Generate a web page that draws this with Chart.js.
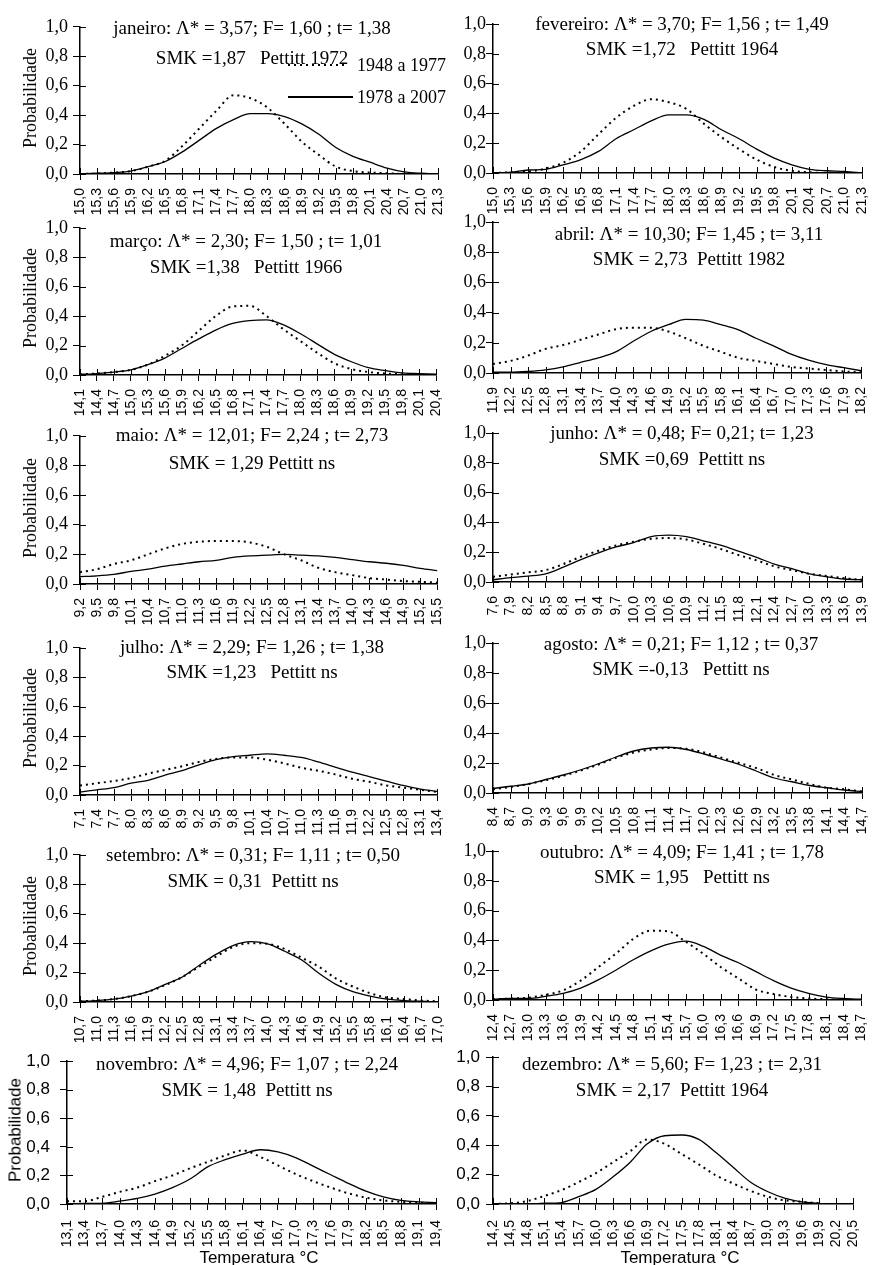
<!DOCTYPE html>
<html>
<head>
<meta charset="utf-8">
<script src="https://cdn.jsdelivr.net/npm/chart.js@4/dist/chart.umd.min.js"></script>
<style>
  body { margin: 0; background: #fff; }
  #stage { position: relative; width: 880px; height: 1265px; overflow: hidden; background: #fff; }
  #stage canvas { position: absolute; }
  .txt { position: absolute; white-space: pre; color: #000; line-height: 1; transform: translate(-50%, -50%); }
  .serif { font-family: "Liberation Serif", "Times New Roman", serif; }
  .sans { font-family: "Liberation Sans", Arial, sans-serif; }
  .ytitle { transform: translate(-50%, -50%) rotate(-90deg); }
</style>
</head>
<body>
<div id="stage"></div>
<script>
/* =============================
   Probabilidade x Temperatura – 1948/77 vs 1978/2007
   ============================= */

// ---- x tick labels (°C) ----
const labelsJan = ['15,0','15,3','15,6','15,9','16,2','16,5','16,8','17,1','17,4','17,7','18,0','18,3','18,6','18,9','19,2','19,5','19,8','20,1','20,4','20,7','21,0','21,3'];
const labelsFeb = ['15,0','15,3','15,6','15,9','16,2','16,5','16,8','17,1','17,4','17,7','18,0','18,3','18,6','18,9','19,2','19,5','19,8','20,1','20,4','20,7','21,0','21,3'];
const labelsMar = ['14,1','14,4','14,7','15,0','15,3','15,6','15,9','16,2','16,5','16,8','17,1','17,4','17,7','18,0','18,3','18,6','18,9','19,2','19,5','19,8','20,1','20,4'];
const labelsApr = ['11,9','12,2','12,5','12,8','13,1','13,4','13,7','14,0','14,3','14,6','14,9','15,2','15,5','15,8','16,1','16,4','16,7','17,0','17,3','17,6','17,9','18,2'];
const labelsMay = ['9,2','9,5','9,8','10,1','10,4','10,7','11,0','11,3','11,6','11,9','12,2','12,5','12,8','13,1','13,4','13,7','14,0','14,3','14,6','14,9','15,2','15,5'];
const labelsJun = ['7,6','7,9','8,2','8,5','8,8','9,1','9,4','9,7','10,0','10,3','10,6','10,9','11,2','11,5','11,8','12,1','12,4','12,7','13,0','13,3','13,6','13,9'];
const labelsJul = ['7,1','7,4','7,7','8,0','8,3','8,6','8,9','9,2','9,5','9,8','10,1','10,4','10,7','11,0','11,3','11,6','11,9','12,2','12,5','12,8','13,1','13,4'];
const labelsAug = ['8,4','8,7','9,0','9,3','9,6','9,9','10,2','10,5','10,8','11,1','11,4','11,7','12,0','12,3','12,6','12,9','13,2','13,5','13,8','14,1','14,4','14,7'];
const labelsSep = ['10,7','11,0','11,3','11,6','11,9','12,2','12,5','12,8','13,1','13,4','13,7','14,0','14,3','14,6','14,9','15,2','15,5','15,8','16,1','16,4','16,7','17,0'];
const labelsOct = ['12,4','12,7','13,0','13,3','13,6','13,9','14,2','14,5','14,8','15,1','15,4','15,7','16,0','16,3','16,6','16,9','17,2','17,5','17,8','18,1','18,4','18,7'];
const labelsNov = ['13,1','13,4','13,7','14,0','14,3','14,6','14,9','15,2','15,5','15,8','16,1','16,4','16,7','17,0','17,3','17,6','17,9','18,2','18,5','18,8','19,1','19,4'];
const labelsDec = ['14,2','14,5','14,8','15,1','15,4','15,7','16,0','16,3','16,6','16,9','17,2','17,5','17,8','18,1','18,4','18,7','19,0','19,3','19,6','19,9','20,2','20,5'];

// ---- 1948 a 1977 (dotted) ----
const oldJan = [0, 0.003, 0.01, 0.02, 0.05, 0.09, 0.19, 0.31, 0.43, 0.535, 0.515, 0.45, 0.34, 0.22, 0.13, 0.05, 0.02, 0.01, 0.005, 0, 0, 0];
const oldFeb = [0, 0.005, 0.01, 0.03, 0.07, 0.145, 0.26, 0.37, 0.45, 0.495, 0.475, 0.43, 0.33, 0.24, 0.16, 0.09, 0.04, 0.015, 0.005, 0, 0, 0];
const oldMar = [0.005, 0.01, 0.02, 0.035, 0.07, 0.13, 0.2, 0.3, 0.4, 0.465, 0.47, 0.4, 0.31, 0.23, 0.15, 0.08, 0.04, 0.02, 0.01, 0.005, 0, 0];
const oldApr = [0.06, 0.08, 0.115, 0.16, 0.185, 0.22, 0.255, 0.29, 0.3, 0.3, 0.275, 0.23, 0.18, 0.14, 0.1, 0.08, 0.06, 0.04, 0.03, 0.02, 0.01, 0.005];
const oldMay = [0.08, 0.1, 0.135, 0.16, 0.2, 0.24, 0.27, 0.285, 0.29, 0.29, 0.28, 0.25, 0.2, 0.16, 0.11, 0.08, 0.06, 0.04, 0.03, 0.02, 0.015, 0.01];
const oldJun = [0.035, 0.05, 0.065, 0.08, 0.12, 0.17, 0.21, 0.245, 0.27, 0.29, 0.295, 0.285, 0.255, 0.22, 0.18, 0.145, 0.105, 0.08, 0.055, 0.04, 0.025, 0.015];
const oldJul = [0.065, 0.08, 0.095, 0.115, 0.145, 0.17, 0.195, 0.225, 0.245, 0.255, 0.255, 0.24, 0.215, 0.185, 0.165, 0.14, 0.11, 0.09, 0.065, 0.05, 0.035, 0.02];
const oldAug = [0.025, 0.04, 0.06, 0.085, 0.115, 0.15, 0.19, 0.235, 0.27, 0.29, 0.3, 0.295, 0.27, 0.235, 0.2, 0.165, 0.12, 0.09, 0.06, 0.035, 0.025, 0.01];
const oldSep = [0.005, 0.01, 0.02, 0.04, 0.07, 0.115, 0.17, 0.24, 0.31, 0.375, 0.4, 0.395, 0.36, 0.3, 0.24, 0.16, 0.105, 0.06, 0.03, 0.02, 0.01, 0.005];
const oldOct = [0.005, 0.01, 0.015, 0.035, 0.065, 0.13, 0.22, 0.31, 0.41, 0.465, 0.46, 0.39, 0.31, 0.22, 0.145, 0.07, 0.04, 0.02, 0.01, 0.005, 0, 0];
const oldNov = [0.02, 0.02, 0.05, 0.085, 0.115, 0.16, 0.2, 0.25, 0.295, 0.34, 0.375, 0.33, 0.27, 0.21, 0.16, 0.115, 0.075, 0.045, 0.025, 0.015, 0.01, 0.005];
const oldDec = [0, 0.005, 0.02, 0.055, 0.095, 0.15, 0.21, 0.285, 0.36, 0.44, 0.41, 0.34, 0.27, 0.195, 0.14, 0.09, 0.05, 0.025, 0.015, 0.005, null, null];

// ---- 1978 a 2007 (solid) ----
const newJan = [0, 0.005, 0.01, 0.02, 0.05, 0.085, 0.15, 0.23, 0.31, 0.37, 0.41, 0.41, 0.39, 0.34, 0.27, 0.18, 0.12, 0.08, 0.04, 0.015, 0.005, 0];
const newFeb = [0, 0.005, 0.02, 0.025, 0.055, 0.09, 0.145, 0.23, 0.29, 0.35, 0.39, 0.39, 0.36, 0.29, 0.23, 0.16, 0.1, 0.055, 0.025, 0.015, 0.01, 0];
const newMar = [0.005, 0.01, 0.02, 0.035, 0.07, 0.115, 0.18, 0.245, 0.305, 0.35, 0.37, 0.375, 0.34, 0.28, 0.21, 0.14, 0.09, 0.05, 0.03, 0.015, 0.01, 0.005];
const newApr = [0.005, 0.005, 0.01, 0.02, 0.04, 0.07, 0.1, 0.14, 0.21, 0.275, 0.32, 0.355, 0.35, 0.32, 0.285, 0.23, 0.18, 0.125, 0.085, 0.055, 0.035, 0.015];
const newMay = [0.05, 0.055, 0.065, 0.085, 0.1, 0.12, 0.135, 0.15, 0.16, 0.18, 0.19, 0.195, 0.2, 0.195, 0.19, 0.18, 0.165, 0.15, 0.14, 0.125, 0.105, 0.09];
const newJun = [0.015, 0.03, 0.04, 0.055, 0.1, 0.15, 0.195, 0.235, 0.265, 0.305, 0.315, 0.305, 0.275, 0.245, 0.205, 0.165, 0.12, 0.09, 0.055, 0.035, 0.02, 0.015];
const newJul = [0.02, 0.035, 0.05, 0.08, 0.1, 0.135, 0.165, 0.205, 0.24, 0.26, 0.27, 0.28, 0.27, 0.255, 0.225, 0.19, 0.155, 0.125, 0.095, 0.065, 0.04, 0.025];
const newAug = [0.03, 0.045, 0.06, 0.09, 0.12, 0.155, 0.195, 0.24, 0.28, 0.3, 0.305, 0.29, 0.26, 0.225, 0.19, 0.145, 0.1, 0.075, 0.05, 0.035, 0.02, 0.01];
const newSep = [0.005, 0.01, 0.02, 0.04, 0.07, 0.12, 0.17, 0.25, 0.325, 0.385, 0.41, 0.395, 0.345, 0.285, 0.195, 0.12, 0.07, 0.04, 0.02, 0.01, 0.005, 0];
const newOct = [0.005, 0.01, 0.01, 0.025, 0.045, 0.08, 0.135, 0.2, 0.27, 0.33, 0.375, 0.395, 0.36, 0.3, 0.25, 0.19, 0.13, 0.08, 0.045, 0.02, 0.01, 0.005];
const newNov = [0, 0.005, 0.005, 0.02, 0.04, 0.07, 0.115, 0.175, 0.26, 0.31, 0.35, 0.38, 0.365, 0.325, 0.265, 0.205, 0.145, 0.09, 0.05, 0.025, 0.015, 0.01];
const newDec = [0, 0, 0, 0.005, 0.01, 0.05, 0.1, 0.185, 0.285, 0.41, 0.465, 0.47, 0.44, 0.35, 0.25, 0.15, 0.085, 0.04, 0.015, 0.005, null, null];

// ---- panel layout (axis pixel positions in the page) ----
const PANELS = [
  { labels: labelsJan, old: oldJan, cur: newJan, col: 0, x0: 80,  x1: 449, yTop: 25,   yBot: 174,  tx: 252, ty: [27, 57],
    title: ['janeiro: Λ* = 3,57; F= 1,60 ; t= 1,38', 'SMK =1,87   Pettitt 1972'] },
  { labels: labelsFeb, old: oldFeb, cur: newFeb, col: 1, x0: 493, x1: 873, yTop: 24,   yBot: 173,  tx: 682, ty: [23, 48],
    title: ['fevereiro: Λ* = 3,70; F= 1,56 ; t= 1,49', 'SMK =1,72   Pettitt 1964'] },
  { labels: labelsMar, old: oldMar, cur: newMar, col: 0, x0: 80,  x1: 447, yTop: 226,  yBot: 375,  tx: 246, ty: [240, 266],
    title: ['março: Λ* = 2,30; F= 1,50 ; t= 1,01', 'SMK =1,38   Pettitt 1966'] },
  { labels: labelsApr, old: oldApr, cur: newApr, col: 1, x0: 493, x1: 872, yTop: 222,  yBot: 373,  tx: 689, ty: [233, 258],
    title: ['abril: Λ* = 10,30; F= 1,45 ; t= 3,11', 'SMK = 2,73  Pettitt 1982'] },
  { labels: labelsMay, old: oldMay, cur: newMay, col: 0, x0: 80,  x1: 448, yTop: 434,  yBot: 584,  tx: 252, ty: [434, 462],
    title: ['maio: Λ* = 12,01; F= 2,24 ; t= 2,73', 'SMK = 1,29 Pettitt ns'] },
  { labels: labelsJun, old: oldJun, cur: newJun, col: 1, x0: 493, x1: 873, yTop: 433,  yBot: 582,  tx: 682, ty: [432, 458],
    title: ['junho: Λ* = 0,48; F= 0,21; t= 1,23', 'SMK =0,69  Pettitt ns'] },
  { labels: labelsJul, old: oldJul, cur: newJul, col: 0, x0: 80,  x1: 448, yTop: 646,  yBot: 795,  tx: 252, ty: [646, 671],
    title: ['julho: Λ* = 2,29; F= 1,26 ; t= 1,38', 'SMK =1,23   Pettitt ns'] },
  { labels: labelsAug, old: oldAug, cur: newAug, col: 1, x0: 493, x1: 873, yTop: 643,  yBot: 793,  tx: 681, ty: [643, 668],
    title: ['agosto: Λ* = 0,21; F= 1,12 ; t= 0,37', 'SMK =-0,13   Pettitt ns'] },
  { labels: labelsSep, old: oldSep, cur: newSep, col: 0, x0: 80,  x1: 449, yTop: 853,  yBot: 1002, tx: 253, ty: [854, 880],
    title: ['setembro: Λ* = 0,31; F= 1,11 ; t= 0,50', 'SMK = 0,31  Pettitt ns'] },
  { labels: labelsOct, old: oldOct, cur: newOct, col: 1, x0: 493, x1: 872, yTop: 851,  yBot: 1000, tx: 682, ty: [851, 876],
    title: ['outubro: Λ* = 4,09; F= 1,41 ; t= 1,78', 'SMK = 1,95   Pettitt ns'] },
  { labels: labelsNov, old: oldNov, cur: newNov, col: 0, x0: 67,  x1: 449, yTop: 1055, yBot: 1204, tx: 247, ty: [1063, 1089], sans: true,
    title: ['novembro: Λ* = 4,96; F= 1,07 ; t= 2,24', 'SMK = 1,48  Pettitt ns'] },
  { labels: labelsDec, old: oldDec, cur: newDec, col: 1, x0: 493, x1: 866, yTop: 1055, yBot: 1204, tx: 672, ty: [1063, 1089], sans: true,
    title: ['dezembro: Λ* = 5,60; F= 1,23 ; t= 2,31', 'SMK = 2,17  Pettitt 1964'] }
];

const SERIF = '"Liberation Serif", "Times New Roman", serif';
const SANS  = '"Liberation Sans", Arial, sans-serif';
const stage = document.getElementById('stage');

Chart.defaults.color = '#000';
Chart.defaults.animation = false;

// inner half of the crossing tick marks
const crossTicks = {
  id: 'crossTicks',
  afterDraw(chart) {
    const { ctx, chartArea, scales } = chart;
    ctx.save();
    ctx.strokeStyle = '#000';
    ctx.lineWidth = 1;
    ctx.beginPath();
    scales.x.ticks.forEach((t, i) => {
      const x = Math.round(scales.x.getPixelForTick(i)) + 0.5;
      ctx.moveTo(x, chartArea.bottom);
      ctx.lineTo(x, chartArea.bottom - 6);
    });
    scales.y.ticks.forEach((t, i) => {
      const y = Math.round(scales.y.getPixelForTick(i)) + 0.5;
      ctx.moveTo(chartArea.left, y);
      ctx.lineTo(chartArea.left + 6, y);
    });
    ctx.stroke();
    ctx.restore();
  }
};

function addText(str, x, y, cls, size) {
  const d = document.createElement('div');
  d.className = 'txt ' + cls;
  d.style.left = x + 'px';
  d.style.top = y + 'px';
  d.style.fontSize = size + 'px';
  d.textContent = str;
  stage.appendChild(d);
  return d;
}

function renderPanel(p) {
  const left = p.col === 0 ? 0 : 440;
  const top = p.yTop - 14;
  const yw = p.x0 - left;
  const xh = 50;
  const width = p.x1 + 14 - left;
  const height = p.yBot - top + xh;

  const c = document.createElement('canvas');
  c.width = width;
  c.height = height;
  c.style.left = left + 'px';
  c.style.top = top + 'px';
  c.style.width = width + 'px';
  c.style.height = height + 'px';
  stage.appendChild(c);

  const yPad = p.col === 0 ? (p.sans ? 10 : 5) : (p.sans ? 6 : 0);
  const xPad = p.sans ? 10 : 8;

  new Chart(c, {
    type: 'line',
    data: {
      labels: p.labels,
      datasets: [
        {
          label: '1948 a 1977',
          data: p.old,
          borderColor: '#000',
          borderWidth: 2,
          borderDash: [2, 4],
          pointRadius: 0,
          cubicInterpolationMode: 'monotone',
          spanGaps: false
        },
        {
          label: '1978 a 2007',
          data: p.cur,
          borderColor: '#000',
          borderWidth: 1.3,
          pointRadius: 0,
          cubicInterpolationMode: 'monotone',
          spanGaps: false
        }
      ]
    },
    options: {
      responsive: false,
      maintainAspectRatio: false,
      devicePixelRatio: 1,
      layout: { padding: { top: 14, right: 14, left: 0, bottom: 0 } },
      plugins: { legend: { display: false }, tooltip: { enabled: false } },
      scales: {
        x: {
          type: 'category',
          offset: false,
          afterFit: s => { s.height = xh; },
          border: { color: '#000', width: 1.5 },
          grid: { drawOnChartArea: false, color: '#000', tickLength: 6, lineWidth: 1 },
          ticks: {
            autoSkip: false,
            minRotation: 90,
            maxRotation: 90,
            padding: xPad,
            color: '#000',
            font: { family: SANS, size: 14 }
          }
        },
        y: {
          min: 0,
          max: 1,
          afterFit: s => { s.width = yw; },
          border: { color: '#000', width: 1.5 },
          grid: { drawOnChartArea: false, color: '#000', tickLength: 7, lineWidth: 1 },
          ticks: {
            stepSize: 0.2,
            padding: yPad,
            color: '#000',
            font: { family: p.sans ? SANS : SERIF, size: p.sans ? 17 : 18 },
            callback: v => v.toFixed(1).replace('.', ',')
          }
        }
      }
    },
    plugins: [crossTicks]
  });

  addText(p.title[0], p.tx, p.ty[0], 'serif', 19);
  addText(p.title[1], p.tx, p.ty[1], 'serif', 19);
}

PANELS.forEach(renderPanel);

// y-axis titles (left column only)
[98, 298, 508, 718, 926].forEach(y => addText('Probabilidade', 30, y, 'serif ytitle', 18));
addText('Probabilidade', 15, 1130, 'sans ytitle', 17);

// x-axis titles (bottom row)
addText('Temperatura °C', 259, 1257, 'sans', 17);
addText('Temperatura °C', 680, 1257, 'sans', 17);

// legend in janeiro panel
function legendLine(x, y, w, dotted) {
  const d = document.createElement('div');
  d.style.cssText = `position:absolute;left:${x}px;top:${y}px;width:${w}px;height:2px;` +
    (dotted ? 'background:repeating-linear-gradient(to right,#000 0 2px,transparent 2px 6px);'
            : 'background:#000;height:1.5px;');
  stage.appendChild(d);
}
legendLine(288, 64, 60, true);
legendLine(288, 96, 65, false);
const l1 = addText('1948 a 1977', 357, 65, 'serif', 18);
l1.style.transform = 'translate(0, -50%)';
const l2 = addText('1978 a 2007', 357, 97, 'serif', 18);
l2.style.transform = 'translate(0, -50%)';
</script>
</body>
</html>
